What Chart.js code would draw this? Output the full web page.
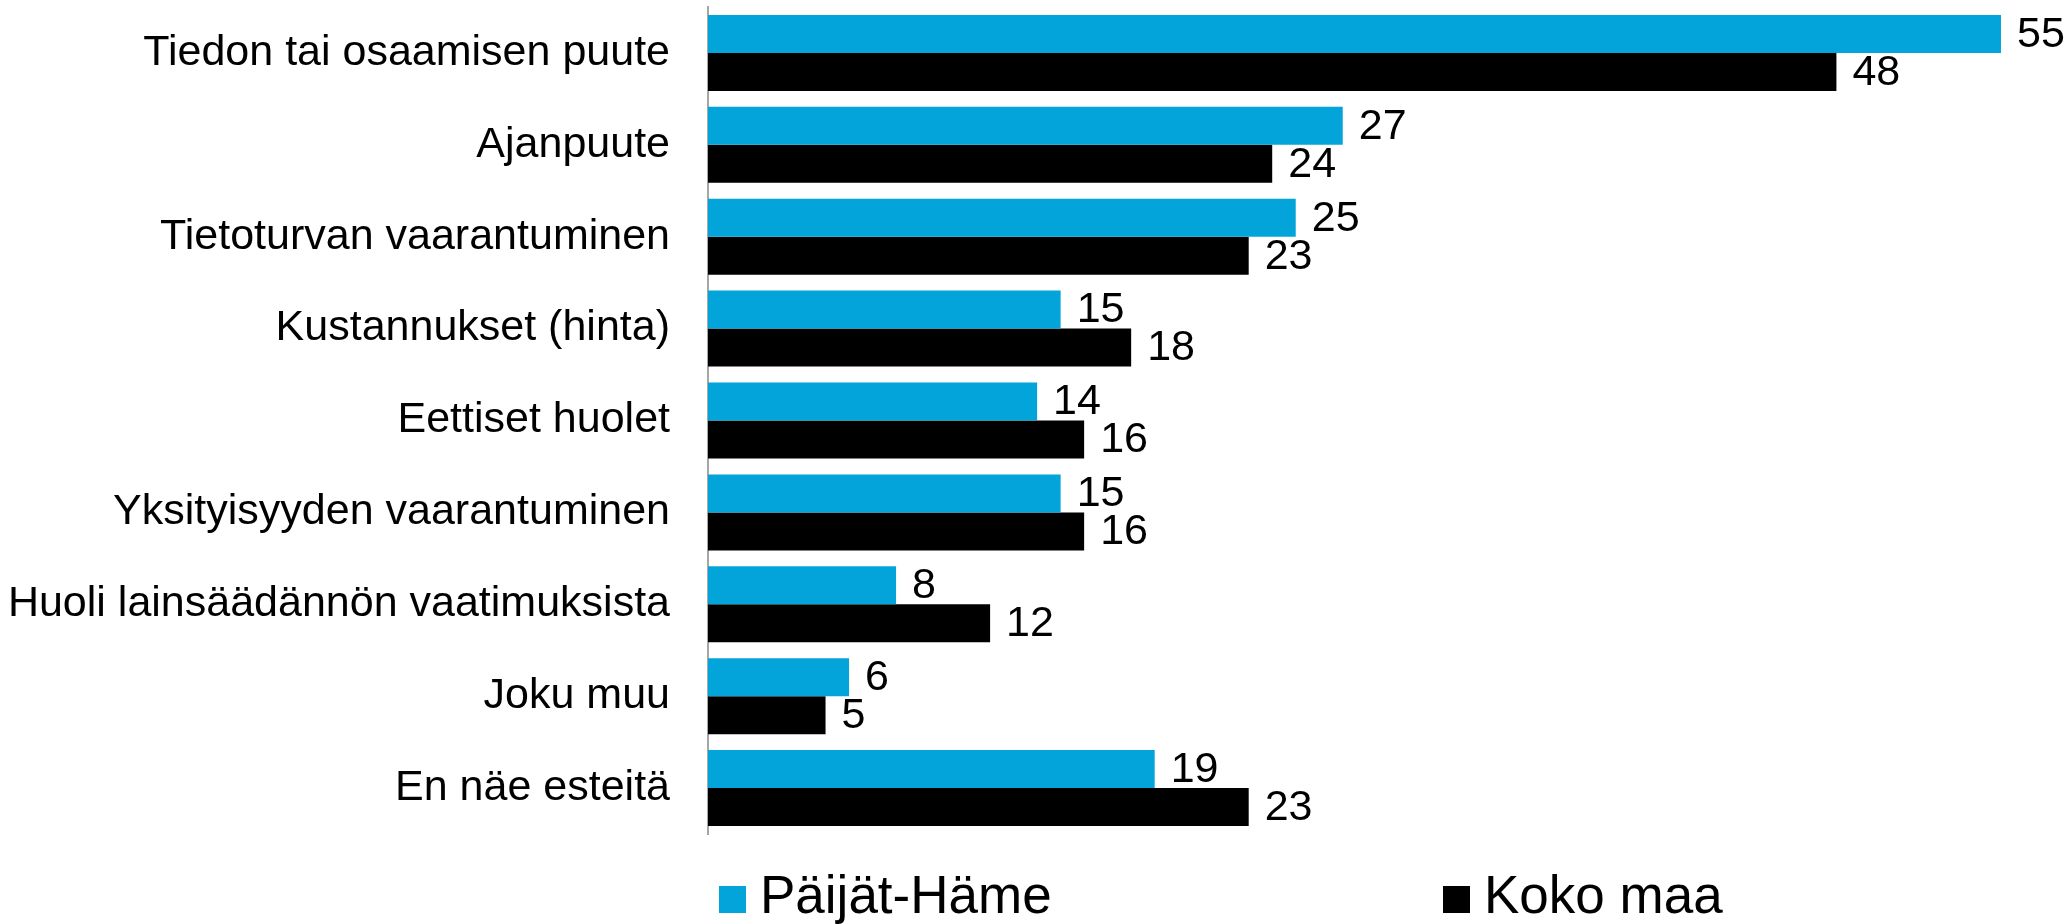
<!DOCTYPE html>
<html>
<head>
<meta charset="utf-8">
<script src="https://cdn.jsdelivr.net/npm/chart.js@4/dist/chart.umd.min.js"></script>
<style>
  html, body { margin: 0; padding: 0; background: #fff; }
  #wrap { width: 2064px; height: 924px; }
</style>
</head>
<body>
<div id="wrap"><canvas id="esteetChart"></canvas></div>
<script>
// Esteet tekoälyn käytölle (%)
const categories = [
    'Tiedon tai osaamisen puute',
    'Ajanpuute',
    'Tietoturvan vaarantuminen',
    'Kustannukset (hinta)',
    'Eettiset huolet',
    'Yksityisyyden vaarantuminen',
    'Huoli lainsäädännön vaatimuksista',
    'Joku muu',
    'En näe esteitä'
];
const paijatHame = [55, 27, 25, 15, 14, 15, 8, 6, 19];
const kokoMaa = [48, 24, 23, 18, 16, 16, 12, 5, 23];

const FONT = "'Liberation Sans', Arial, sans-serif";

// value labels at the end of each bar
const valueLabels = {
    id: 'valueLabels',
    afterDatasetsDraw(chart) {
        const ctx = chart.ctx;
        ctx.save();
        ctx.font = '43px ' + FONT;
        ctx.fillStyle = '#000';
        ctx.textAlign = 'left';
        ctx.textBaseline = 'middle';
        chart.data.datasets.forEach((ds, i) => {
            chart.getDatasetMeta(i).data.forEach((bar, j) => {
                ctx.fillText(ds.data[j], bar.x + 16, bar.y + 1);
            });
        });
        ctx.restore();
    }
};

// legend drawn below the plot, placed like in the original
const bottomLegend = {
    id: 'bottomLegend',
    afterDraw(chart) {
        const ctx = chart.ctx;
        const xs = [719, 1443];
        ctx.save();
        ctx.font = '53px ' + FONT;
        ctx.textBaseline = 'alphabetic';
        chart.data.datasets.forEach((ds, i) => {
            ctx.fillStyle = ds.backgroundColor;
            ctx.fillRect(xs[i], 886, 27, 27);
            ctx.fillStyle = '#000';
            ctx.fillText(ds.label, xs[i] + 41, 913);
        });
        ctx.restore();
    }
};

const ctx = document.getElementById('esteetChart').getContext('2d');
const esteetChart = new Chart(ctx, {
    type: 'bar',
    data: {
        labels: categories,
        datasets: [
            {
                label: 'Päijät-Häme',
                data: paijatHame,
                backgroundColor: '#03A4D9',
                borderWidth: 0
            },
            {
                label: 'Koko maa',
                data: kokoMaa,
                backgroundColor: '#000000',
                borderWidth: 0
            }
        ]
    },
    options: {
        indexAxis: 'y',
        responsive: true,
        maintainAspectRatio: false,
        animation: false,
        layout: {
            padding: { top: 7, bottom: 90, left: 0, right: 16 }
        },
        datasets: {
            bar: {
                categoryPercentage: 0.827,
                barPercentage: 1
            }
        },
        scales: {
            x: {
                display: false,
                min: 0,
                max: 57
            },
            y: {
                grid: { display: false, drawTicks: false },
                border: { display: true, color: '#a6a6a6', width: 2 },
                ticks: {
                    color: '#000',
                    padding: 38,
                    font: { size: 43, family: FONT }
                },
                afterFit: function(scale) {
                    scale.width = 708;
                    // labels sit inside their bands, no extra room needed
                    scale.paddingTop = 0;
                    scale.paddingBottom = 0;
                }
            }
        },
        plugins: {
            legend: { display: false },
            tooltip: { enabled: false }
        }
    },
    plugins: [valueLabels, bottomLegend]
});
</script>
</body>
</html>
